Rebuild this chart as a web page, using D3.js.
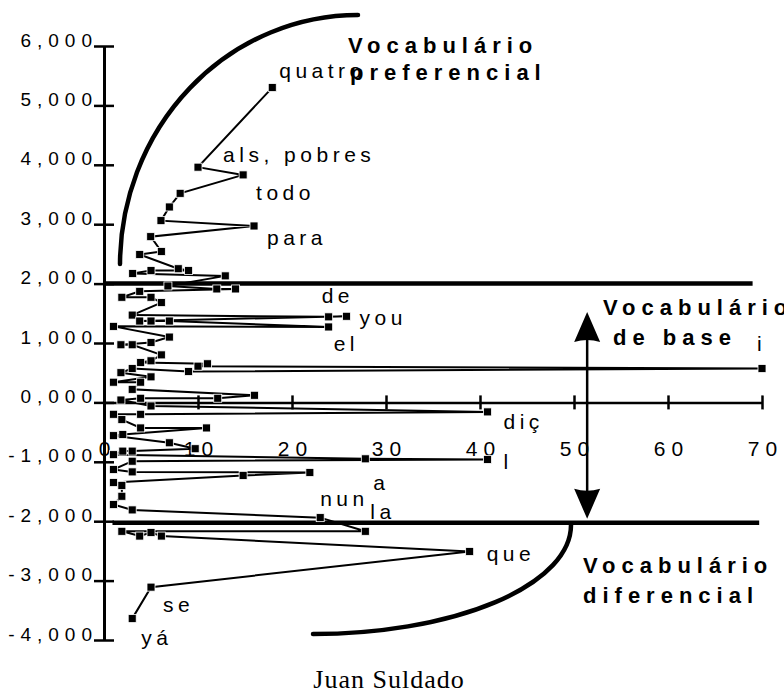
<!DOCTYPE html>
<html><head><meta charset="utf-8">
<script src="https://cdn.jsdelivr.net/npm/d3@7"></script>
<style>html,body{margin:0;padding:0;background:#fff;overflow:hidden}</style>
</head><body><svg id="chart" width="784" height="693"></svg>
<script>
// ---- data ----
const pointX = [17.9,10.0,14.8,8.1,6.95,6.06,15.96,4.97,6.1,3.8,7.9,9.0,5.0,3.05,12.9,6.8,12.0,14.0,3.8,1.9,5.0,6.1,3.0,23.9,25.8,3.8,5.0,6.95,23.9,1.0,6.95,5.0,1.8,3.0,6.1,5.0,3.9,11.0,10.0,70,9.0,3.0,1.8,5.0,1.0,3.9,3.0,16.0,12.1,3.9,1.8,5.0,40.8,3.9,1.0,1.9,3.9,10.9,2.0,1.0,6.95,9.7,3.0,2.0,1.0,27.8,40.8,3.0,1.0,3.0,21.9,14.8,1.0,1.9,1.9,1.0,3.0,23.0,27.8,1.9,3.8,5.0,6.1,38.9,5.0,3.0];
const pointY = [5.30,3.96,3.83,3.52,3.29,3.06,2.97,2.79,2.54,2.49,2.25,2.22,2.22,2.17,2.13,1.96,1.91,1.91,1.87,1.77,1.77,1.68,1.47,1.44,1.45,1.37,1.37,1.37,1.27,1.28,1.10,1.01,0.97,0.97,0.80,0.70,0.67,0.65,0.61,0.57,0.52,0.57,0.50,0.43,0.34,0.34,0.22,0.12,0.07,0.07,0.04,-0.06,-0.16,-0.20,-0.20,-0.29,-0.43,-0.43,-0.54,-0.56,-0.68,-0.78,-0.82,-0.82,-0.88,-0.95,-0.96,-0.99,-1.13,-1.17,-1.18,-1.23,-1.35,-1.40,-1.58,-1.72,-1.81,-1.94,-2.17,-2.17,-2.25,-2.19,-2.25,-2.51,-3.11,-3.64];
const labelText  = ["quatro","als, pobres","todo","para","de","you","el","i","diç","l","a","nun","la","que","se","yá"];
const labelPoint = [0,2,2,6,23,24,28,39,52,66,65,77,78,83,84,85];
const xTicks = [0,10,20,30,40,50,60,70];
const yTicks = [-4,-3,-2,-1,0,1,2,3,4,5,6];
const zoneLevels = [2,-2];
const zoneTitles = [["Vocabulário","preferencial"],["Vocabulário","de base"],["Vocabulário","diferencial"]];
const caption = "Juan Suldado";

// ---- layout ----
const W = 784, H = 693;
const svg = d3.select("#chart");
const x = d3.scaleLinear().domain([0,70]).range([104,762]);
const y = d3.scaleLinear().domain([-4,6]).range([640,46]);
const FONT = "'Liberation Sans', Arial, sans-serif";
const labelOffsets = [[7,-10],[-20,-13],[13,25],[13,19],[-7,-14],[13,9],[5,24],[-5,-18],[16,17],[16,10],[8,31],[0,-12],[5,-12],[17,10],[12,25],[9,26]];
const zoneLines = [[0,69.0],[0.9,69.7]];
const titlePos = [[[348,53],[350,80]],[[603,315],[613,345]],[[583,573],[583,603]]];

// thick zone boundaries
svg.append("g").selectAll("line").data(zoneLevels).join("line")
  .attr("x1",(d,i)=>x(zoneLines[i][0])).attr("x2",(d,i)=>x(zoneLines[i][1]))
  .attr("y1",(d,i)=>y(d) + (i?1.5:0)).attr("y2",(d,i)=>y(d) + (i?1.5:0))
  .attr("stroke","#000").attr("stroke-width",4.5);

// arcs
const arcs = svg.append("g").attr("fill","none").attr("stroke","#000").attr("stroke-width",4.5).attr("stroke-linecap","round");
arcs.append("path").attr("d",`M120,264 A238,250 0 0 1 358,15`);
arcs.append("path").attr("d",`M571,525 A258,109 0 0 1 313,634`);

// axes
const fmt = d3.formatLocale({decimal:",",thousands:".",grouping:[3],currency:["",""],minus:"-"}).format(".3f");
const gy = svg.append("g").attr("transform",`translate(${x(0)},0)`)
  .call(d3.axisLeft(y).tickValues(yTicks).tickFormat(fmt).tickSize(10).tickSizeOuter(0));
gy.select(".domain").attr("stroke-width",3);
gy.selectAll(".tick line").attr("x1",-10).attr("x2",10).attr("stroke-width",2.5);
gy.selectAll(".tick text").attr("x",-6).attr("dy",0)
  .attr("font-size",19).attr("font-family",FONT).attr("letter-spacing",6).attr("fill","#000");

const gx = svg.append("g").attr("transform",`translate(0,${y(0)})`)
  .call(d3.axisBottom(x).tickValues(xTicks).tickFormat(d=>String(d)).tickSize(7).tickSizeOuter(0));
gx.select(".domain").attr("stroke-width",2.5);
gx.selectAll(".tick line").attr("y1",-7).attr("y2",7).attr("stroke-width",2.5);
gx.selectAll(".tick text").attr("y",54).attr("dy",0).attr("dx",3)
  .attr("font-size",21).attr("font-family",FONT).attr("letter-spacing",6).attr("fill","#000");

// series
const pts = pointX.map((v,i)=>[v,pointY[i]]);
svg.append("path").datum(pts)
  .attr("d", d3.line().x(d=>x(d[0])).y(d=>y(d[1])))
  .attr("fill","none").attr("stroke","#000").attr("stroke-width",2).attr("stroke-linejoin","miter");
const S = 8;
svg.append("g").selectAll("rect").data(pts).join("rect")
  .attr("x",d=>x(d[0])-S/2).attr("y",d=>y(d[1])-S/2).attr("width",S).attr("height",S)
  .attr("fill","#000").attr("stroke","#fff").attr("stroke-width",0.8);

// word labels
svg.append("g").selectAll("text").data(labelText).join("text")
  .attr("x",(d,i)=>x(pointX[labelPoint[i]])+labelOffsets[i][0])
  .attr("y",(d,i)=>y(pointY[labelPoint[i]])+labelOffsets[i][1])
  .attr("font-size",21).attr("font-family",FONT).attr("letter-spacing",4.5).text(d=>d);

// zone titles
zoneTitles.forEach((t,k)=>{
  t.forEach((line,j)=>{
    svg.append("text").attr("x",titlePos[k][j][0]).attr("y",titlePos[k][j][1])
      .attr("font-size",22).attr("font-weight","bold").attr("font-family",FONT)
      .attr("letter-spacing",6).text(line);
  });
});

// double arrow
const ax = x(51.4), aTop = y(1.52), aBot = y(-1.96);
svg.append("line").attr("x1",ax).attr("x2",ax).attr("y1",aTop+25).attr("y2",aBot-25)
  .attr("stroke","#000").attr("stroke-width",2.5);
svg.append("path").attr("d",`M${ax},${aTop} L${ax-13},${aTop+30} Q${ax},${aTop+26} ${ax+13},${aTop+30} Z`).attr("fill","#000");
svg.append("path").attr("d",`M${ax},${aBot} L${ax-13},${aBot-30} Q${ax},${aBot-26} ${ax+13},${aBot-30} Z`).attr("fill","#000");

// caption
svg.append("text").attr("x",389).attr("y",688).attr("text-anchor","middle")
  .attr("font-size",26).attr("font-family","'Liberation Serif', 'Times New Roman', serif")
  .attr("letter-spacing",1).text(caption);
</script></body></html>
